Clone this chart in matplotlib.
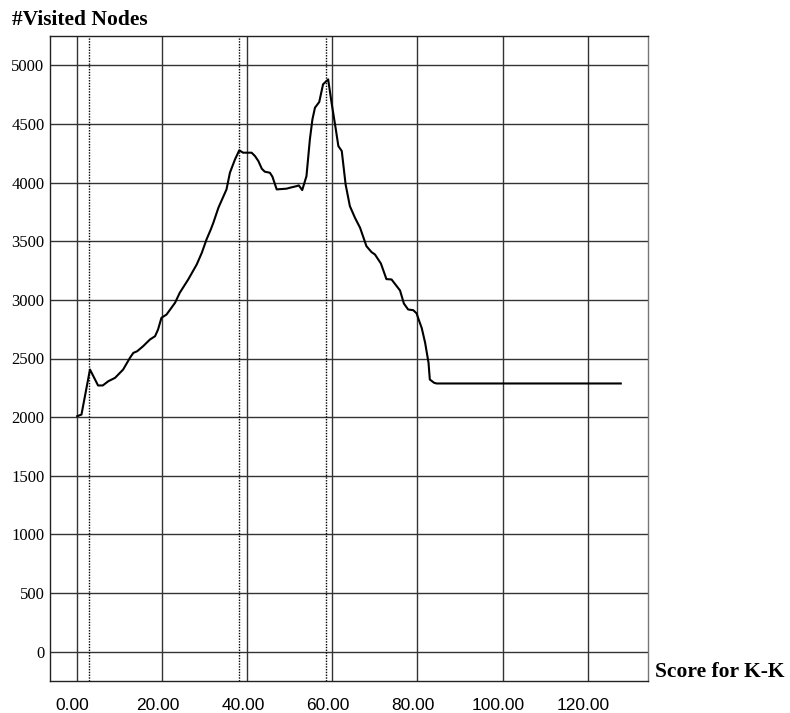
import matplotlib
matplotlib.use("Agg")
import matplotlib.pyplot as plt
import matplotlib.transforms as mtransforms

# data
score = [0.0, 1.0, 3.0, 4.9, 6.0, 7.3, 8.9, 10.8, 12.4, 13.2, 14.1, 15.5, 17.1, 18.3, 19.0,
         19.8, 21.0, 23.0, 24.1, 26.1, 28.1, 29.3, 30.4, 31.4, 32.0, 33.2, 35.1, 35.9, 37.1,
         38.1, 39.0, 41.0, 41.8, 42.6, 43.4, 44.1, 45.3, 45.9, 46.9, 49.2, 50.0, 51.6, 52.1,
         52.9, 53.9, 54.7, 55.3, 55.9, 56.9, 57.8, 59.0, 59.8, 60.8, 61.4, 62.2, 63.1, 64.1,
         65.3, 66.5, 68.0, 69.2, 70.0, 71.4, 72.7, 73.9, 75.9, 76.8, 77.8, 79.0, 79.8, 80.3,
         81.0, 81.8, 82.6, 82.9, 83.9, 84.5, 127.8]
visited = [2008, 2022, 2406, 2270, 2270, 2306, 2335, 2406, 2506, 2548, 2562, 2605, 2662, 2690, 2747,
           2847, 2875, 2975, 3060, 3174, 3302, 3402, 3515, 3600, 3657, 3786, 3942, 4084, 4198,
           4275, 4255, 4255, 4226, 4183, 4118, 4093, 4084, 4050, 3942, 3948, 3956, 3970, 3976,
           3936, 4055, 4368, 4539, 4639, 4687, 4838, 4880, 4681, 4454, 4311, 4269, 3985, 3800,
           3700, 3615, 3458, 3407, 3387, 3310, 3177, 3174, 3080, 2969, 2918, 2912, 2885, 2830,
           2760, 2634, 2463, 2321, 2293, 2287, 2287]
marker_x = [2.7, 38.0, 58.4]
x_ticks = [0, 20, 40, 60, 80, 100, 120]
x_labels = ["0.00", "20.00", "40.00", "60.00", "80.00", "100.00", "120.00"]
y_ticks = [0, 500, 1000, 1500, 2000, 2500, 3000, 3500, 4000, 4500, 5000]
y_labels = [str(v) for v in y_ticks]

fig = plt.figure(figsize=(7.9, 7.13), dpi=100)
ax = fig.add_axes([50/790, 32/713, 598/790, 645/713])

ax.set_xlim(-6.4, 134.2)
ax.set_ylim(-250, 5250)
ax.set_xticks(x_ticks)
ax.set_yticks(y_ticks)
ax.set_xticklabels(x_labels, family="Liberation Sans", fontsize=12.5)
ax.set_yticklabels(y_labels, family="Liberation Serif", fontsize=12)
ax.tick_params(axis="both", length=0)
ax.tick_params(axis="x", pad=12)
ax.tick_params(axis="y", pad=4)

offset = mtransforms.ScaledTranslation(-4.5/100, 0, fig.dpi_scale_trans)
for lab in ax.get_xticklabels():
    lab.set_transform(lab.get_transform() + offset)

ax.grid(True, color="#333333", linewidth=1.0)
ax.set_axisbelow(True)

for mx in marker_x:
    ax.axvline(mx, color="black", linestyle=(0, (1, 1)), linewidth=1.0)

ax.plot(score, visited, color="black", linewidth=1.5)

for s in ax.spines.values():
    s.set_color("#222222")
    s.set_linewidth(1.0)
ax.spines["right"].set_color("#777777")

fig.text(12/790, 1 - 25/713, "#Visited Nodes", family="Liberation Serif",
         fontweight="bold", fontsize=15.5, va="baseline", ha="left")
fig.text(655/790, 1 - 677/713, "Score for K-K", family="Liberation Serif",
         fontweight="bold", fontsize=15.5, va="baseline", ha="left")

fig.savefig("out.png", dpi=100)
